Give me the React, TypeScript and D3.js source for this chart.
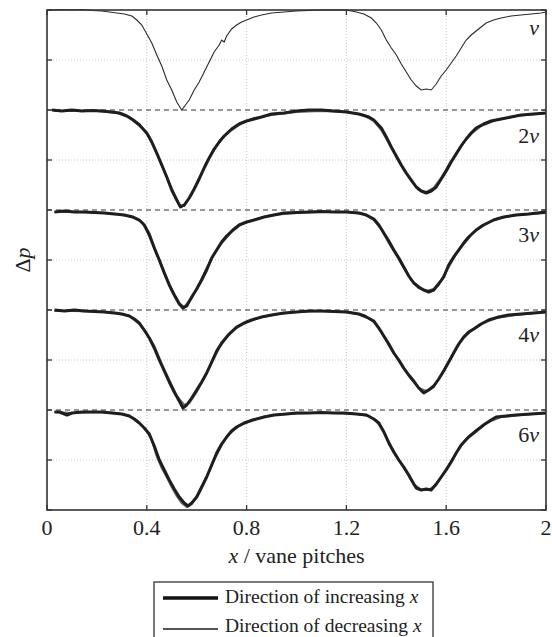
import React from "react";
import * as d3 from "d3";

type Pt = [number, number];

const xTicks = [0, 0.4, 0.8, 1.2, 1.6, 2];
const xTickLabels = ["0", "0.4", "0.8", "1.2", "1.6", "2"];
const panelLabels = ["", "2", "3", "4", "6"];
const legendLabels = ["Direction of increasing ", "Direction of decreasing "];

// single speed v (one trace)
const curveV: Pt[] = [[0.01,0.0],[0.06,0.005],[0.1,0.0],[0.14,0.005],[0.18,-0.005],[0.22,-0.01],[0.25,-0.02],[0.28,-0.03],[0.31,-0.04],[0.34,-0.06],[0.36,-0.1],[0.38,-0.15],[0.4,-0.24],[0.42,-0.33],[0.44,-0.45],[0.46,-0.56],[0.48,-0.7],[0.5,-0.8],[0.52,-0.92],[0.54,-1.0],[0.555,-0.95],[0.57,-0.9],[0.59,-0.8],[0.61,-0.72],[0.63,-0.62],[0.65,-0.52],[0.67,-0.42],[0.69,-0.35],[0.7,-0.3],[0.71,-0.32],[0.72,-0.26],[0.74,-0.19],[0.76,-0.15],[0.78,-0.12],[0.8,-0.1],[0.83,-0.07],[0.86,-0.05],[0.9,-0.03],[0.95,-0.02],[1.0,-0.01],[1.05,-0.005],[1.1,0.0],[1.15,0.0],[1.2,0.0],[1.24,-0.02],[1.27,-0.04],[1.3,-0.08],[1.32,-0.13],[1.34,-0.2],[1.36,-0.3],[1.38,-0.38],[1.4,-0.45],[1.42,-0.54],[1.44,-0.62],[1.46,-0.7],[1.48,-0.76],[1.5,-0.8],[1.52,-0.79],[1.54,-0.8],[1.56,-0.74],[1.58,-0.66],[1.6,-0.6],[1.62,-0.53],[1.64,-0.46],[1.66,-0.38],[1.68,-0.3],[1.7,-0.25],[1.72,-0.21],[1.74,-0.17],[1.76,-0.13],[1.79,-0.1],[1.82,-0.08],[1.86,-0.06],[1.9,-0.05],[1.94,-0.04],[1.98,-0.03],[2.0,-0.02]];

// increasing-x traces
const inc2v: Pt[] = [[0.02,0],[0.06,-0.01],[0.1,0.0],[0.14,-0.01],[0.18,-0.005],[0.22,-0.01],[0.26,-0.02],[0.29,-0.03],[0.32,-0.06],[0.345,-0.1],[0.37,-0.15],[0.4,-0.23],[0.42,-0.32],[0.44,-0.43],[0.46,-0.55],[0.48,-0.67],[0.5,-0.8],[0.52,-0.9],[0.535,-0.97],[0.55,-0.95],[0.57,-0.88],[0.59,-0.79],[0.61,-0.69],[0.63,-0.58],[0.65,-0.48],[0.67,-0.39],[0.69,-0.32],[0.71,-0.26],[0.74,-0.19],[0.77,-0.14],[0.8,-0.11],[0.83,-0.09],[0.86,-0.07],[0.9,-0.04],[0.95,-0.03],[1.0,-0.01],[1.05,0.0],[1.1,0.0],[1.15,-0.01],[1.2,-0.02],[1.25,-0.04],[1.29,-0.07],[1.31,-0.1],[1.34,-0.18],[1.36,-0.27],[1.38,-0.37],[1.4,-0.46],[1.42,-0.55],[1.44,-0.63],[1.46,-0.7],[1.48,-0.77],[1.5,-0.81],[1.52,-0.83],[1.54,-0.81],[1.56,-0.77],[1.58,-0.69],[1.6,-0.61],[1.62,-0.52],[1.64,-0.44],[1.66,-0.36],[1.68,-0.29],[1.7,-0.23],[1.72,-0.18],[1.75,-0.14],[1.78,-0.11],[1.82,-0.09],[1.86,-0.07],[1.9,-0.05],[1.95,-0.04],[2.0,-0.03]];
const inc3v: Pt[] = [[0.03,-0.02],[0.07,-0.01],[0.11,-0.02],[0.15,-0.02],[0.19,-0.025],[0.23,-0.03],[0.27,-0.04],[0.31,-0.05],[0.345,-0.07],[0.37,-0.1],[0.39,-0.15],[0.41,-0.25],[0.43,-0.38],[0.45,-0.5],[0.47,-0.63],[0.49,-0.75],[0.51,-0.85],[0.53,-0.94],[0.545,-0.98],[0.56,-0.96],[0.58,-0.87],[0.6,-0.79],[0.62,-0.7],[0.64,-0.6],[0.66,-0.48],[0.68,-0.4],[0.7,-0.32],[0.72,-0.26],[0.745,-0.2],[0.77,-0.15],[0.8,-0.12],[0.83,-0.1],[0.87,-0.07],[0.91,-0.05],[0.95,-0.03],[1.0,-0.025],[1.05,-0.02],[1.1,-0.015],[1.15,-0.02],[1.2,-0.02],[1.25,-0.03],[1.28,-0.05],[1.31,-0.09],[1.33,-0.15],[1.35,-0.23],[1.37,-0.31],[1.39,-0.4],[1.41,-0.48],[1.43,-0.57],[1.45,-0.66],[1.47,-0.73],[1.49,-0.77],[1.51,-0.8],[1.53,-0.82],[1.55,-0.8],[1.57,-0.74],[1.59,-0.67],[1.61,-0.55],[1.63,-0.47],[1.65,-0.4],[1.67,-0.33],[1.69,-0.27],[1.72,-0.2],[1.75,-0.15],[1.79,-0.1],[1.83,-0.07],[1.88,-0.05],[1.93,-0.04],[2.0,-0.02]];
const inc4v: Pt[] = [[0.03,0.0],[0.07,-0.01],[0.11,0.0],[0.15,-0.01],[0.19,-0.015],[0.23,-0.02],[0.27,-0.03],[0.3,-0.04],[0.33,-0.06],[0.35,-0.09],[0.37,-0.13],[0.39,-0.2],[0.41,-0.28],[0.43,-0.38],[0.45,-0.5],[0.47,-0.61],[0.49,-0.72],[0.51,-0.82],[0.53,-0.91],[0.545,-0.98],[0.56,-0.95],[0.58,-0.88],[0.6,-0.8],[0.62,-0.72],[0.64,-0.63],[0.66,-0.52],[0.68,-0.41],[0.7,-0.33],[0.73,-0.24],[0.76,-0.17],[0.79,-0.13],[0.82,-0.1],[0.86,-0.07],[0.9,-0.05],[0.95,-0.03],[1.0,-0.02],[1.05,-0.01],[1.1,-0.01],[1.15,-0.015],[1.2,-0.02],[1.25,-0.04],[1.28,-0.07],[1.31,-0.11],[1.33,-0.18],[1.35,-0.26],[1.37,-0.34],[1.39,-0.43],[1.41,-0.5],[1.43,-0.58],[1.45,-0.65],[1.47,-0.71],[1.49,-0.78],[1.51,-0.83],[1.53,-0.8],[1.55,-0.76],[1.57,-0.69],[1.59,-0.61],[1.61,-0.52],[1.63,-0.43],[1.65,-0.34],[1.67,-0.27],[1.69,-0.22],[1.71,-0.19],[1.74,-0.14],[1.77,-0.1],[1.81,-0.07],[1.85,-0.05],[1.9,-0.04],[1.95,-0.03],[2.0,-0.02]];
const inc6v: Pt[] = [[0.03,-0.02],[0.05,-0.02],[0.08,-0.05],[0.1,-0.03],[0.14,-0.02],[0.18,-0.02],[0.22,-0.02],[0.26,-0.03],[0.3,-0.04],[0.33,-0.06],[0.35,-0.09],[0.37,-0.13],[0.39,-0.18],[0.41,-0.24],[0.43,-0.36],[0.45,-0.5],[0.47,-0.6],[0.49,-0.7],[0.51,-0.79],[0.53,-0.87],[0.55,-0.93],[0.565,-0.96],[0.58,-0.93],[0.6,-0.87],[0.62,-0.77],[0.64,-0.67],[0.66,-0.55],[0.68,-0.43],[0.7,-0.34],[0.72,-0.27],[0.74,-0.21],[0.76,-0.17],[0.79,-0.13],[0.825,-0.1],[0.87,-0.07],[0.91,-0.05],[0.96,-0.04],[1.0,-0.03],[1.05,-0.03],[1.1,-0.025],[1.15,-0.03],[1.19,-0.03],[1.24,-0.04],[1.28,-0.05],[1.31,-0.09],[1.33,-0.13],[1.35,-0.22],[1.37,-0.33],[1.39,-0.42],[1.41,-0.5],[1.43,-0.57],[1.45,-0.65],[1.47,-0.74],[1.48,-0.78],[1.5,-0.8],[1.52,-0.79],[1.54,-0.8],[1.56,-0.74],[1.58,-0.67],[1.6,-0.6],[1.62,-0.52],[1.64,-0.43],[1.66,-0.35],[1.69,-0.27],[1.72,-0.21],[1.75,-0.15],[1.78,-0.1],[1.8,-0.07],[1.84,-0.06],[1.88,-0.05],[1.94,-0.04],[2.0,-0.03]];

// decreasing-x traces
const dec2v: Pt[] = [[0.03,-0.01],[0.1,-0.01],[0.2,-0.01],[0.28,-0.03],[0.33,-0.07],[0.37,-0.14],[0.41,-0.27],[0.44,-0.44],[0.47,-0.61],[0.5,-0.79],[0.53,-0.95],[0.55,-0.96],[0.58,-0.84],[0.61,-0.68],[0.64,-0.52],[0.67,-0.4],[0.7,-0.29],[0.74,-0.2],[0.78,-0.13],[0.83,-0.08],[0.9,-0.05],[1.0,-0.02],[1.1,-0.01],[1.2,-0.02],[1.27,-0.05],[1.31,-0.11],[1.34,-0.2],[1.37,-0.33],[1.4,-0.47],[1.43,-0.6],[1.46,-0.71],[1.49,-0.8],[1.52,-0.82],[1.55,-0.78],[1.58,-0.68],[1.61,-0.55],[1.64,-0.43],[1.67,-0.32],[1.7,-0.24],[1.74,-0.16],[1.8,-0.1],[1.88,-0.06],[2.0,-0.03]];
const dec3v: Pt[] = [[0.03,-0.02],[0.1,-0.02],[0.2,-0.025],[0.28,-0.04],[0.34,-0.07],[0.38,-0.12],[0.41,-0.23],[0.44,-0.44],[0.47,-0.62],[0.5,-0.8],[0.53,-0.93],[0.55,-0.97],[0.58,-0.88],[0.61,-0.74],[0.64,-0.58],[0.67,-0.44],[0.7,-0.33],[0.74,-0.22],[0.78,-0.14],[0.84,-0.09],[0.9,-0.05],[1.0,-0.03],[1.1,-0.02],[1.2,-0.02],[1.27,-0.04],[1.31,-0.1],[1.34,-0.19],[1.37,-0.33],[1.4,-0.45],[1.43,-0.58],[1.46,-0.7],[1.49,-0.78],[1.52,-0.81],[1.55,-0.79],[1.58,-0.7],[1.61,-0.57],[1.64,-0.44],[1.67,-0.34],[1.7,-0.25],[1.74,-0.16],[1.8,-0.09],[1.88,-0.05],[2.0,-0.03]];
const dec4v: Pt[] = [[0.03,-0.01],[0.1,-0.01],[0.2,-0.015],[0.28,-0.03],[0.33,-0.06],[0.37,-0.14],[0.4,-0.24],[0.43,-0.36],[0.46,-0.54],[0.49,-0.7],[0.52,-0.86],[0.55,-0.95],[0.57,-0.93],[0.6,-0.82],[0.63,-0.68],[0.66,-0.53],[0.69,-0.38],[0.72,-0.27],[0.76,-0.18],[0.8,-0.12],[0.86,-0.07],[0.93,-0.04],[1.0,-0.02],[1.1,-0.01],[1.2,-0.02],[1.27,-0.05],[1.31,-0.12],[1.34,-0.22],[1.37,-0.35],[1.4,-0.47],[1.43,-0.59],[1.46,-0.69],[1.49,-0.78],[1.52,-0.81],[1.55,-0.77],[1.58,-0.65],[1.61,-0.52],[1.64,-0.38],[1.67,-0.28],[1.7,-0.21],[1.74,-0.14],[1.8,-0.08],[1.88,-0.05],[2.0,-0.02]];
const dec6v: Pt[] = [[0.03,-0.02],[0.1,-0.03],[0.2,-0.02],[0.28,-0.03],[0.33,-0.06],[0.37,-0.13],[0.4,-0.21],[0.42,-0.3],[0.44,-0.46],[0.46,-0.58],[0.48,-0.67],[0.5,-0.77],[0.52,-0.86],[0.54,-0.93],[0.56,-0.97],[0.58,-0.94],[0.61,-0.83],[0.64,-0.67],[0.67,-0.5],[0.7,-0.35],[0.73,-0.24],[0.77,-0.16],[0.82,-0.1],[0.88,-0.06],[0.95,-0.04],[1.05,-0.03],[1.15,-0.03],[1.24,-0.04],[1.29,-0.06],[1.32,-0.11],[1.35,-0.21],[1.38,-0.37],[1.41,-0.5],[1.44,-0.62],[1.47,-0.74],[1.5,-0.8],[1.53,-0.8],[1.56,-0.75],[1.59,-0.63],[1.62,-0.51],[1.65,-0.39],[1.68,-0.29],[1.72,-0.2],[1.76,-0.13],[1.82,-0.07],[1.9,-0.05],[2.0,-0.03]];

const incCurves: Pt[][] = [inc2v, inc3v, inc4v, inc6v];
const decCurves: Pt[][] = [dec2v, dec3v, dec4v, dec6v];

const W = 552;
const H = 637;
const L = 47, R = 546, T = 10, B = 510;
const serif = "Liberation Serif, DejaVu Serif, Times New Roman, serif";

export default function App() {
  const x = d3.scaleLinear().domain([0, 2]).range([L, R]);
  const y = d3.scaleLinear().domain([-5, 0]).range([B, T]);
  const line = (off: number) =>
    d3.line<Pt>().x((d) => x(d[0])).y((d) => y(d[1] - off));

  const yTicks = d3.range(0, 11).map((i) => -i * 0.5);
  const gridY = [-0.5, -1.5, -2.5, -3.5, -4.5];
  const dashY = [-1, -2, -3, -4];
  const gridX = xTicks.slice(1, -1);
  const labelBase = [35, 143, 242, 342, 442];
  const txt = { fontFamily: serif, fill: "#222" } as React.CSSProperties;

  return (
    <svg width={W} height={H} style={{ position: "absolute", left: 0, top: 0, background: "#fff" }}>
      {gridX.map((v) => (
        <line key={"gx" + v} x1={x(v)} x2={x(v)} y1={T} y2={B} stroke="#c8c8c8" strokeWidth={1} strokeDasharray="1,2" />
      ))}
      {gridY.map((v) => (
        <line key={"gy" + v} x1={L} x2={R} y1={y(v)} y2={y(v)} stroke="#c8c8c8" strokeWidth={1} strokeDasharray="1,2" />
      ))}
      {dashY.map((v) => (
        <line key={"dy" + v} x1={L} x2={R} y1={y(v)} y2={y(v)} stroke="#333" strokeWidth={1.2} strokeDasharray="5,4" />
      ))}
      <path d={line(0)(curveV) || ""} fill="none" stroke="#2a2a2a" strokeWidth={1.1} />
      {decCurves.map((c, i) => (
        <path key={"d" + i} d={line(i + 1)(c) || ""} fill="none" stroke="#6a6a6a" strokeWidth={2.2} />
      ))}
      {incCurves.map((c, i) => (
        <path key={"i" + i} d={line(i + 1)(c) || ""} fill="none" stroke="#1e1e1e" strokeWidth={3} strokeLinejoin="round" />
      ))}
      <rect x={L} y={T} width={R - L} height={B - T} fill="none" stroke="#333" strokeWidth={1.6} />
      {yTicks.map((v) => (
        <g key={"yt" + v}>
          <line x1={L} x2={L + 5} y1={y(v)} y2={y(v)} stroke="#333" strokeWidth={1.3} />
          <line x1={R - 5} x2={R} y1={y(v)} y2={y(v)} stroke="#333" strokeWidth={1.3} />
        </g>
      ))}
      {xTicks.map((v, i) => (
        <g key={"xt" + v}>
          <line x1={x(v)} x2={x(v)} y1={B} y2={B - 5} stroke="#333" strokeWidth={1.3} />
          <line x1={x(v)} x2={x(v)} y1={T} y2={T + 5} stroke="#333" strokeWidth={1.3} />
          <text x={x(v)} y={535} fontSize={22} textAnchor="middle" style={txt}>{xTickLabels[i]}</text>
        </g>
      ))}
      <text x={(L + R) / 2} y={563} fontSize={22} textAnchor="middle" style={txt}>
        <tspan fontStyle="italic">x</tspan> / vane pitches
      </text>
      <text transform={`translate(30,${(T + B) / 2}) rotate(-90)`} fontSize={22} textAnchor="middle" style={txt}>
        Δ<tspan fontStyle="italic">p</tspan>
      </text>
      {panelLabels.map((p, i) => (
        <text key={"pl" + i} x={539} y={labelBase[i]} fontSize={22} textAnchor="end" style={txt}>
          {p}<tspan fontStyle="italic">v</tspan>
        </text>
      ))}
      <rect x={154} y={582} width={279} height={70} fill="#fff" stroke="#333" strokeWidth={1.3} />
      <line x1={163} x2={218} y1={598} y2={598} stroke="#111" strokeWidth={3.5} />
      <line x1={163} x2={218} y1={629} y2={629} stroke="#555" strokeWidth={2} />
      {legendLabels.map((t, i) => (
        <text key={"lg" + i} x={225} y={603 + i * 29} fontSize={19.5} style={txt}>
          {t}<tspan fontStyle="italic">x</tspan>
        </text>
      ))}
    </svg>
  );
}
